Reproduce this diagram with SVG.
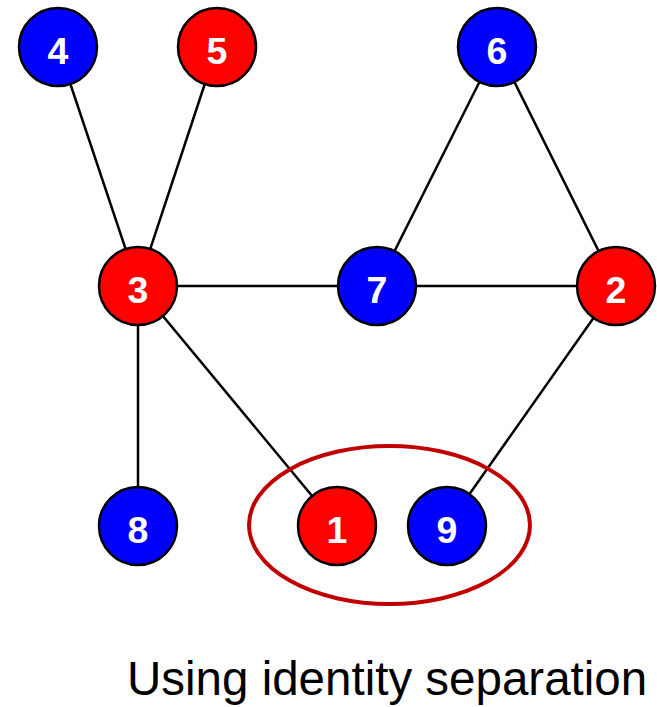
<svg xmlns="http://www.w3.org/2000/svg" width="657" height="707" viewBox="0 0 657 707">
  <style>
    .edge { stroke: #000; stroke-width: 2.5; fill: none; }
    .node circle { stroke: #000; stroke-width: 2.5; }
    .red circle { fill: #ff0000; }
    .blue circle { fill: #0000ff; }
    .node text { fill: #fff; font-family: "Liberation Sans", Arial, sans-serif; font-weight: bold; font-size: 37.5px; text-anchor: middle; }
    .caption { fill: #000; font-family: "Liberation Sans", Arial, sans-serif; font-size: 47.5px; }
  </style>
  <rect width="657" height="707" fill="#fff"/>

  <!-- connectors -->
  <g id="edges">
    <line class="edge" x1="58" y1="47" x2="138" y2="286"/>
    <line class="edge" x1="217" y1="47" x2="138" y2="286"/>
    <line class="edge" x1="138" y1="286" x2="377" y2="286"/>
    <line class="edge" x1="377" y1="286" x2="616" y2="286"/>
    <line class="edge" x1="497" y1="47" x2="377" y2="286"/>
    <line class="edge" x1="497" y1="47" x2="616" y2="286"/>
    <line class="edge" x1="138" y1="286" x2="138" y2="526"/>
    <line class="edge" x1="138" y1="286" x2="337" y2="526"/>
    <line class="edge" x1="616" y1="286" x2="447" y2="526"/>
  </g>

  <!-- highlight ring around nodes 1 and 9 -->
  <ellipse id="group-1-9" cx="389.5" cy="525" rx="140.5" ry="79" fill="none" stroke="#c00000" stroke-width="4"/>

  <g id="node-4" class="node blue"><circle cx="58" cy="47" r="39"/><text x="58" y="63.5">4</text></g>
  <g id="node-5" class="node red"><circle cx="217" cy="47" r="39"/><text x="217" y="63.5">5</text></g>
  <g id="node-6" class="node blue"><circle cx="497" cy="47" r="39"/><text x="497" y="63.5">6</text></g>
  <g id="node-3" class="node red"><circle cx="138" cy="286" r="39"/><text x="138" y="302.5">3</text></g>
  <g id="node-7" class="node blue"><circle cx="377" cy="286" r="39"/><text x="377" y="302.5">7</text></g>
  <g id="node-2" class="node red"><circle cx="616" cy="286" r="39"/><text x="616" y="302.5">2</text></g>
  <g id="node-8" class="node blue"><circle cx="138" cy="526" r="39"/><text x="138" y="542.5">8</text></g>
  <g id="node-1" class="node red"><circle cx="337" cy="526" r="39"/><text x="337" y="542.5">1</text></g>
  <g id="node-9" class="node blue"><circle cx="447" cy="526" r="39"/><text x="447" y="542.5">9</text></g>

  <text class="caption" x="127" y="695">Using identity separation</text>
</svg>
